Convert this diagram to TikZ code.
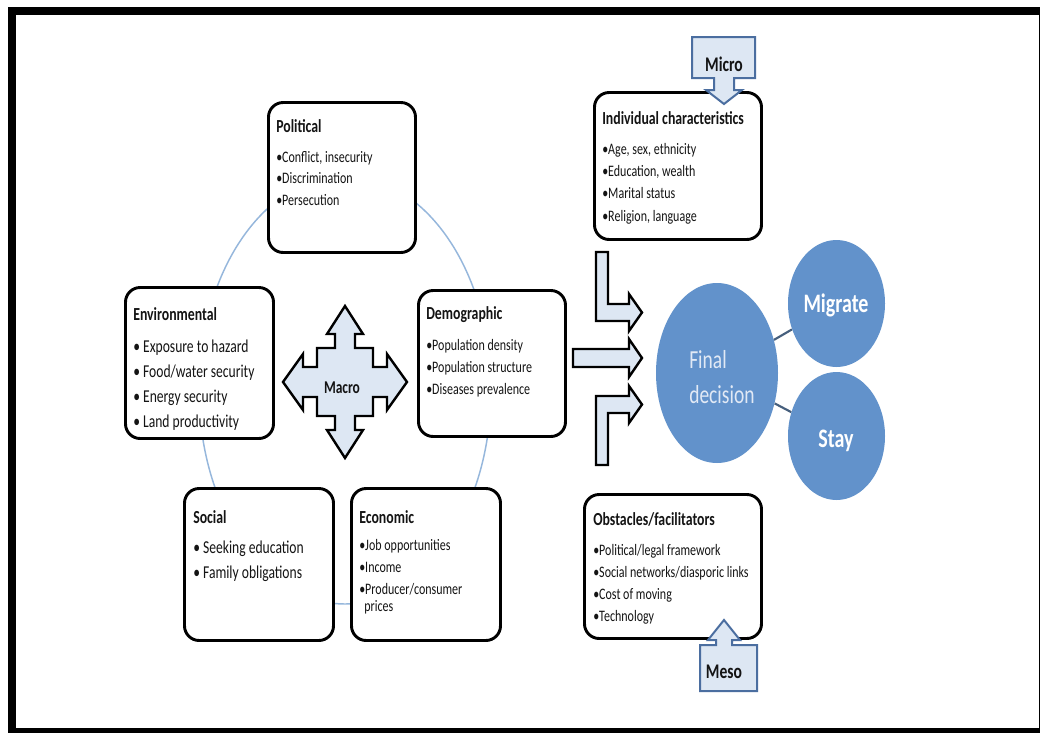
\documentclass[tikz,border=0pt]{standalone}
\usepackage{fontspec}
\setmainfont{Carlito}[FakeStretch=0.75]
\usetikzlibrary{shapes.geometric}
\definecolor{txt}{RGB}{20,20,20}
\definecolor{lblue}{RGB}{221,231,243}
\definecolor{cblue}{RGB}{98,146,203}
\definecolor{ringc}{RGB}{150,183,220}
\definecolor{calb}{RGB}{75,110,160}
\definecolor{linkc}{RGB}{70,95,125}
\definecolor{ftxt}{RGB}{225,233,245}
\begin{document}
\begin{tikzpicture}[x=0.75pt,y=-0.75pt,
  box/.style={draw=black, line width=2.2pt, rounded corners=11pt, fill=white, inner sep=0pt},
  ttl/.style={anchor=base west, inner sep=0pt, text=txt, font=\fontsize{13.8}{16}\selectfont\bfseries},
  itm/.style={anchor=base west, inner sep=0pt, text=txt, font=\fontsize{12}{14}\selectfont},
  itmL/.style={anchor=base west, inner sep=0pt, text=txt, font=\fontsize{13.6}{16}\selectfont},
  blk/.style={fill=lblue, draw=black, line width=1.8pt, line join=miter},
  callout/.style={fill=lblue, draw=calb, line width=1.5pt, line join=miter},
  circ/.style={ellipse, fill=cblue, draw=none, inner sep=0pt},
  link/.style={draw=linkc, line width=1.6pt},
  lvl/.style={anchor=base, inner sep=0pt, text=txt, font=\fontsize{15.6}{18}\selectfont\bfseries}
]
\useasboundingbox (0,0) rectangle (1040,733);
% frame
\fill[white] (0,0) rectangle (1040,733);
\fill[black] (8,7) rectangle (1040,733);
\fill[white] (16,15) rectangle (1038.5,728);

% ring
\draw[ringc, line width=1.1pt] (345,390) ellipse [x radius=146, y radius=214];

% macro boxes
\node[box, minimum width=110.25pt, minimum height=112.5pt] (political) at (342,177.5) {};
\node[box, minimum width=111pt, minimum height=113.25pt] (environmental) at (199.5,363) {};
\node[box, minimum width=110.25pt, minimum height=109.5pt] (demographic) at (492,363.5) {};
\node[box, minimum width=111.75pt, minimum height=114pt] (social) at (259,564.5) {};
\node[box, minimum width=111.75pt, minimum height=114pt] (economic) at (426,564.5) {};
\node[box, minimum width=125.25pt, minimum height=110.25pt] (individual) at (678,166) {};
\node[box, minimum width=132.75pt, minimum height=108pt] (obstacles) at (673,566.5) {};

% Political
\node[ttl] (pol0) at (276,132) {Political};
\node[itm] (pol1) at (276,162) {•Conflict, insecurity};
\node[itm] (pol2) at (276,183.5) {•Discrimination};
\node[itm] (pol3) at (276,205.5) {•Persecution};

% Environmental
\node[ttl] (env0) at (133,320) {Environmental};
\node[itmL] (env1) at (133,352) {• Exposure to hazard};
\node[itmL] (env2) at (133,377) {• Food/water security};
\node[itmL] (env3) at (133,402) {• Energy security};
\node[itmL] (env4) at (133,427) {• Land productivity};

% Demographic
\node[ttl] (dem0) at (426,319) {Demographic};
\node[itm] (dem1) at (426,350) {•Population density};
\node[itm] (dem2) at (426,372) {•Population structure};
\node[itm] (dem3) at (426,394) {•Diseases prevalence};

% Social
\node[ttl] (soc0) at (193,523) {Social};
\node[itmL] (soc1) at (193,553) {• Seeking education};
\node[itmL] (soc2) at (193,578) {• Family obligations};

% Economic
\node[ttl] (eco0) at (359,523) {Economic};
\node[itm] (eco1) at (359,550) {•Job opportunities};
\node[itm] (eco2) at (359,572) {•Income};
\node[itm] (eco3) at (359,594) {•Producer/consumer};
\node[itm] (eco4) at (364,611.5) {prices};

% Individual characteristics
\node[ttl] (ind0) at (602,124) {Individual characteristics};
\node[itm] (ind1) at (602,154) {•Age, sex, ethnicity};
\node[itm] (ind2) at (602,176.5) {•Education, wealth};
\node[itm] (ind3) at (602,198.5) {•Marital status};
\node[itm] (ind4) at (602,221) {•Religion, language};

% Obstacles/facilitators
\node[ttl] (obs0) at (593,525) {Obstacles/facilitators};
\node[itm] (obs1) at (593,555) {•Political/legal framework};
\node[itm] (obs2) at (593,577) {•Social networks/diasporic links};
\node[itm] (obs3) at (593,599) {•Cost of moving};
\node[itm] (obs4) at (593,621) {•Technology};

% Macro quad arrow
\draw[blk, shift={(345,382)}]
  (0,-76) -- (18,-48) -- (10,-48) -- (10,-34) -- (28,-34) -- (28,-15) -- (42,-15) -- (42,-28)
  -- (62,0) -- (42,28) -- (42,15) -- (28,15) -- (28,34) -- (10,34) -- (10,48) -- (18,48)
  -- (0,76) -- (-18,48) -- (-10,48) -- (-10,34) -- (-28,34) -- (-28,15) -- (-42,15) -- (-42,28)
  -- (-62,0) -- (-42,-28) -- (-42,-15) -- (-28,-15) -- (-28,-34) -- (-10,-34) -- (-10,-48) -- (-18,-48) -- cycle;
\node[anchor=base, inner sep=0pt, text=txt, font=\fontsize{13.5}{15}\selectfont\bfseries] (macro) at (342,393) {Macro};

% three block arrows
\draw[blk] (596,252) -- (608,252) -- (608,304) -- (629,304) -- (629,294) -- (642,312.5) -- (629,331) -- (629,321) -- (596,321) -- cycle;
\draw[blk] (573,349) -- (629,349) -- (629,339) -- (642,358) -- (629,377) -- (629,367) -- (573,367) -- cycle;
\draw[blk] (596,465) -- (608,465) -- (608,413) -- (629,413) -- (629,423) -- (642,404.5) -- (629,386) -- (629,396) -- (596,396) -- cycle;

% decision circles
\node[circ, minimum width=91.5pt, minimum height=135pt] (final) at (717,373) {};
\node[circ, minimum width=72.75pt, minimum height=95.25pt] (migrate) at (836.5,303.5) {};
\node[circ, minimum width=72.75pt, minimum height=96pt] (stay) at (836.5,436) {};
\draw[link] (final) -- (migrate);
\draw[link] (final) -- (stay);
\node[anchor=base west, inner sep=0pt, text=ftxt, font=\fontsize{19.5}{22}\selectfont] (fin1) at (689,368) {Final};
\node[anchor=base west, inner sep=0pt, text=ftxt, font=\fontsize{19.5}{22}\selectfont] (fin2) at (689,403) {decision};
\node[anchor=base, inner sep=0pt, text=white, font=\fontsize{20}{24}\selectfont\bfseries] (migt) at (836,312) {Migrate};
\node[anchor=base, inner sep=0pt, text=white, font=\fontsize{20}{24}\selectfont\bfseries] (stayt) at (836,447) {Stay};

% Micro callout
\draw[callout] (692,37) -- (755,37) -- (755,78) -- (734,78) -- (734,90) -- (742,90) -- (724,104)
  -- (706,90) -- (714,90) -- (714,78) -- (692,78) -- cycle;
\node[lvl] (micro) at (724,71) {Micro};

% Meso callout
\draw[callout] (700,691) -- (757,691) -- (757,645) -- (732,645) -- (732,640) -- (740,640) -- (724,620)
  -- (708,640) -- (716,640) -- (716,645) -- (700,645) -- cycle;
\node[lvl] (meso) at (724,678) {Meso};
\end{tikzpicture}
\end{document}
